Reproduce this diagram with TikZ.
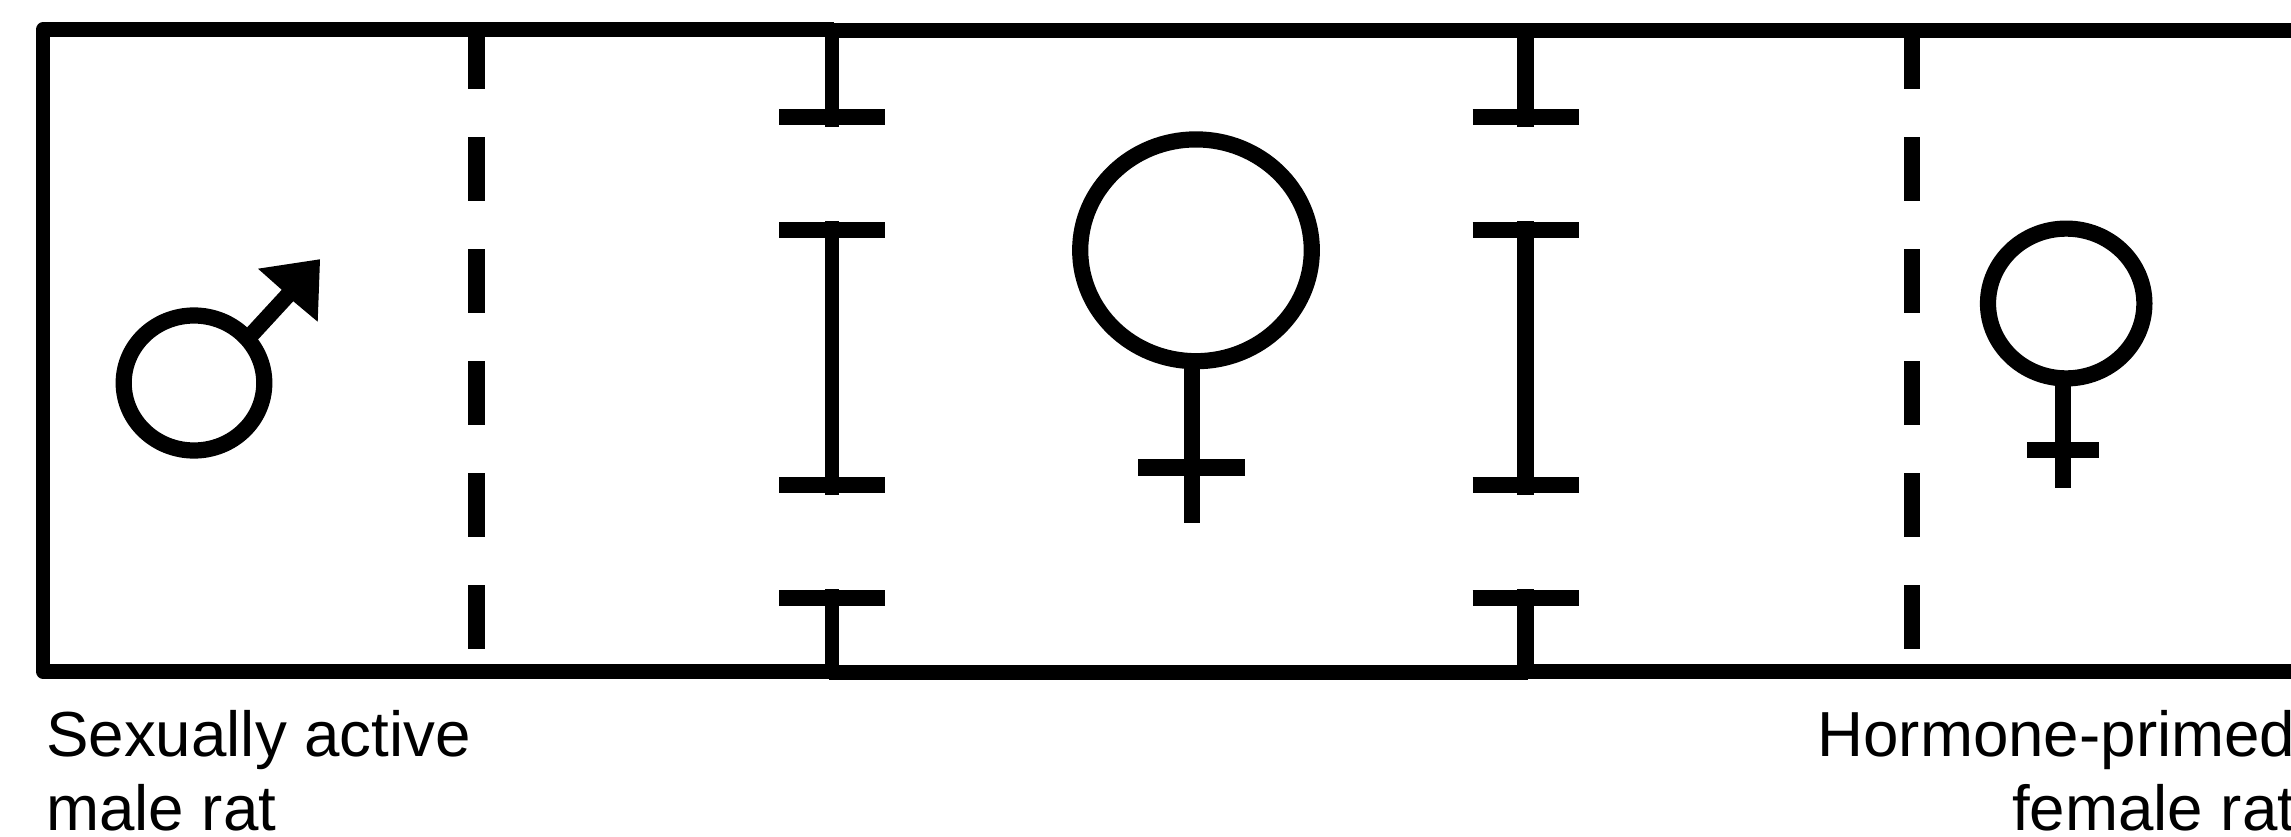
\documentclass[tikz,border=0pt]{standalone}
\usepackage{fontspec}
\setmainfont{Liberation Sans}
\begin{document}
\begin{tikzpicture}[y=-1cm,
  wall/.style={line width=1.46mm,line join=round},
  divider/.style={line width=1.65mm},
  bar/.style={line width=1.64mm},
  symbol/.style={line width=1.62mm},
  cue/.style={inner sep=0pt,font=\fontsize{18.12}{21}\selectfont}]
\clip (0,0) rectangle (22.91,8.37);
% chamber walls
\coordinate (TL) at (0.43,0.297);
\coordinate (BL) at (0.43,6.713);
\coordinate (TM) at (8.32,0.302);
\coordinate (BM) at (8.29,6.725);
\coordinate (BN) at (15.28,6.725);
\draw[wall] (8.335,0.297)--(TL)--(BL)--(8.32,6.713);
\draw[wall] (TM)--(23,0.302);
\draw[wall] (BM)--(BN);
\draw[wall] (15.25,6.715)--(23,6.715);
% dashed dividers
\foreach \x in {4.765,19.12}{
  \draw[divider] (\x,0.35)--(\x,0.89);
  \foreach \y in {1.37,2.49,3.61,4.73,5.85}
    \draw[divider] (\x,\y)--++(0,0.64);
}
% partitions with holes
\foreach \x/\w in {8.32/1.46mm,15.255/1.62mm}{
  \draw[line width=\w] (\x,0.3)--(\x,1.27);
  \draw[line width=\w] (\x,2.21)--(\x,4.95);
  \draw[line width=\w] (\x,5.89)--(\x,6.72);
  \foreach \y in {1.17,2.3,4.85,5.98}
    \draw[bar] (\x-0.53,\y)--(\x+0.53,\y);
}
% male symbol
\coordinate (m) at (1.94,3.83);
\draw[symbol] (m) ellipse [x radius=0.703,y radius=0.675];
\draw[symbol] (2.47,3.395)--(2.88,2.95);
\fill (3.2,2.593)--(2.58,2.687)--(2.82,2.9)--(2.93,3.01)--(3.177,3.217)--cycle;
% stimulus female, large
\coordinate (f) at (11.96,2.503);
\draw[symbol] (f) ellipse [x radius=1.158,y radius=1.109];
\draw[symbol] (11.92,3.6)--(11.92,5.233);
\draw[symbol] (11.383,4.675)--(12.447,4.675);
% stimulus female, small
\coordinate (s) at (20.662,3.035);
\draw[symbol] (s) ellipse [x radius=0.782,y radius=0.749];
\draw[symbol] (20.63,3.75)--(20.63,4.88);
\draw[symbol] (20.273,4.502)--(20.987,4.502);
% labels
\node[cue,anchor=north west,align=left] (malelabel) at (0.455,7.095) {Sexually active\\male rat};
\node[cue,anchor=north east,align=right] (femalelabel) at (22.96,7.095) {Hormone-primed\\female rat};
\end{tikzpicture}
\end{document}
